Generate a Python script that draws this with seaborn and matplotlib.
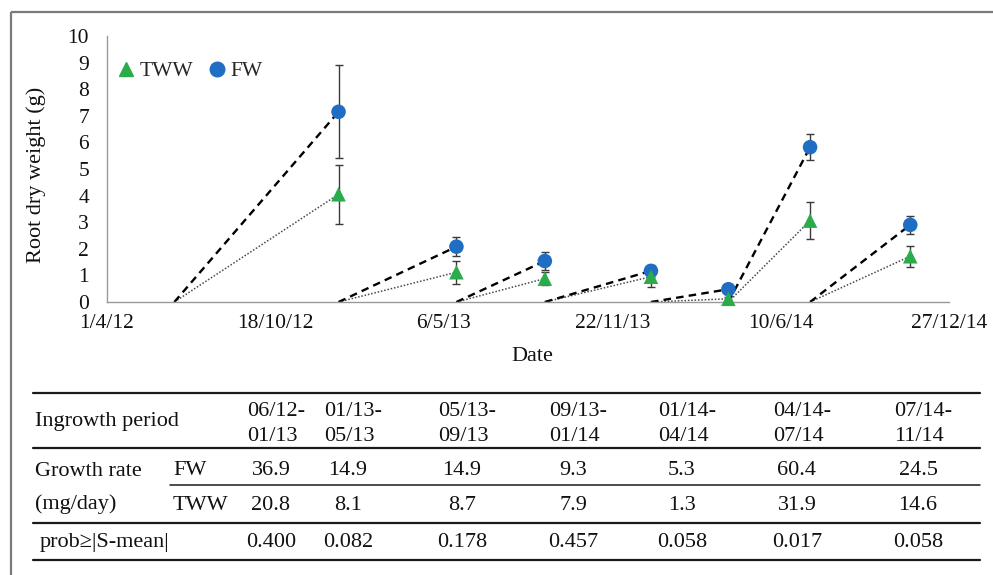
import numpy as np
import pandas as pd
import matplotlib
matplotlib.use("Agg")
import matplotlib.pyplot as plt
from matplotlib.lines import Line2D
from matplotlib.patches import Rectangle
import seaborn as sns

# ---- data -------------------------------------------------------------
period_start = ["2012-06-20", "2013-01-01", "2013-05-21", "2013-09-03",
                "2014-01-07", "2014-04-09", "2014-07-15"]
period_end = ["2013-01-01", "2013-05-21", "2013-09-03", "2014-01-07",
              "2014-04-09", "2014-07-15", "2014-11-11"]

fw_weight = [7.15, 2.08, 1.54, 1.17, 0.48, 5.82, 2.90]
fw_err = [1.75, 0.35, 0.33, 0.22, 0.08, 0.48, 0.33]
tww_weight = [4.05, 1.12, 0.88, 0.95, 0.12, 3.06, 1.72]
tww_err = [1.10, 0.43, 0.23, 0.37, 0.05, 0.70, 0.40]

periods = ["06/12-01/13", "01/13-05/13", "05/13-09/13", "09/13-01/14",
           "01/14-04/14", "04/14-07/14", "07/14-11/14"]
rate_fw = [36.9, 14.9, 14.9, 9.3, 5.3, 60.4, 24.5]
rate_tww = [20.8, 8.1, 8.7, 7.9, 1.3, 31.9, 14.6]
prob = [0.400, 0.082, 0.178, 0.457, 0.058, 0.017, 0.058]

axis_start = "2012-04-01"
axis_end = "2014-12-27"
tick_step_days = 200

# ---- tidy tables ------------------------------------------------------
points = pd.DataFrame({
    "date": pd.to_datetime(period_end * 2),
    "weight": fw_weight + tww_weight,
    "err": fw_err + tww_err,
    "treatment": ["FW"] * 7 + ["TWW"] * 7,
    "period": list(range(7)) * 2,
})

segments = []
for trt, vals in (("FW", fw_weight), ("TWW", tww_weight)):
    for i, (s, e, v) in enumerate(zip(period_start, period_end, vals)):
        segments.append({"date": pd.Timestamp(s), "weight": 0.0, "treatment": trt, "period": i, "order": 0})
        segments.append({"date": pd.Timestamp(e), "weight": v, "treatment": trt, "period": i, "order": 1})
segments = pd.DataFrame(segments)

# ---- style ------------------------------------------------------------
sns.set_theme(style="white")
plt.rcParams["font.family"] = ["Liberation Serif", "DejaVu Serif"]
plt.rcParams["mathtext.fontset"] = "stix"

W, H = 993, 575
fig = plt.figure(figsize=(W / 100, H / 100), dpi=100)

def fx(px):
    return px / W

def fy(py):
    return 1 - py / H

blue = "#1f6ec4"
green = "#2bac4a"
spine_col = "#9a9a9a"

ax = fig.add_axes([fx(107), fy(302), fx(949) - fx(107), fy(36) - fy(302)])

# connecting segments: FW dashed, TWW dotted
sns.lineplot(data=segments[segments.treatment == "TWW"], x="date", y="weight",
             units="period", estimator=None, sort=False, color="#4a4a4a",
             lw=1.1, dashes=False, ax=ax, legend=False, zorder=1)
ax.lines[-1]  # noqa
for ln in ax.lines:
    ln.set_linestyle((0, (1, 1.2)))
n_dotted = len(ax.lines)
sns.lineplot(data=segments[segments.treatment == "FW"], x="date", y="weight",
             units="period", estimator=None, sort=False, color="black",
             lw=1.7, ax=ax, legend=False, zorder=1)
for ln in ax.lines[n_dotted:]:
    ln.set_linestyle((0, (3.2, 2.2)))

# error bars
for trt in ("TWW", "FW"):
    sub = points[points.treatment == trt]
    ax.errorbar(sub["date"], sub["weight"], yerr=sub["err"], fmt="none",
                ecolor="#3a3a3a", elinewidth=1.0, capsize=3.2, capthick=1.0,
                zorder=2, clip_on=False)

# markers
sns.scatterplot(data=points, x="date", y="weight", hue="treatment",
                style="treatment", hue_order=["TWW", "FW"],
                style_order=["TWW", "FW"],
                markers={"TWW": "^", "FW": "o"},
                palette={"TWW": green, "FW": blue},
                s=110, linewidth=0, ax=ax, legend=False, zorder=3, clip_on=False)

# axes
x0, x1 = pd.Timestamp(axis_start), pd.Timestamp(axis_end)
ax.set_xlim(x0, x1)
ax.set_ylim(0, 10)
ticks = pd.date_range(x0, x1, freq=f"{tick_step_days}D")
ax.set_xticks(ticks)
ax.set_xticklabels([f"{d.day}/{d.month}/{d.year % 100}" for d in ticks])
ax.set_yticks(range(0, 11))

for side in ("top", "right"):
    ax.spines[side].set_visible(False)
for side in ("left", "bottom"):
    ax.spines[side].set_color(spine_col)
    ax.spines[side].set_linewidth(1.0)

ax.tick_params(axis="both", which="major", direction="out", length=4,
               width=1.0, color=spine_col, labelsize=15.5, labelcolor="#111111")
ax.tick_params(axis="x", pad=5)
ax.tick_params(axis="y", pad=9)

ax.set_xlabel("Date", fontsize=16, color="#111111")
ax.set_ylabel("Root dry weight (g)", fontsize=16, color="#111111")
ax.xaxis.set_label_coords((532 - 107) / 842, (302 - 347) / 266)
ax.yaxis.set_label_coords((46 - 107) / 842, (302 - 175) / 266)

handles = [
    Line2D([], [], marker="^", color=green, linestyle="none", markersize=10.5),
    Line2D([], [], marker="o", color=blue, linestyle="none", markersize=10.5),
]
ax.legend(handles, ["TWW", "FW"], loc="upper left",
          bbox_to_anchor=(fx(118), fy(61)), bbox_transform=fig.transFigure,
          ncol=2, frameon=False, fontsize=15.5, handlelength=0.7,
          handletextpad=0.3, columnspacing=0.75, borderpad=0, borderaxespad=0)

# ---- outer frame ------------------------------------------------------
fig.patches.append(Rectangle((fx(11), fy(12)), 2, -2, transform=fig.transFigure,
                             fill=False, edgecolor="#7a7a7a", linewidth=1.6))

# ---- table below the plot ----------------------------------------------
txt = dict(fontsize=16, color="#111111")
rule = "#1a1a1a"

def hline(py, xl, xr, lw):
    fig.add_artist(Line2D([fx(xl), fx(xr)], [fy(py), fy(py)],
                          transform=fig.transFigure, color=rule, linewidth=lw))

hline(393, 33, 980, 1.6)
hline(448, 33, 980, 1.6)
hline(485, 170, 980, 1.1)
hline(523, 33, 980, 1.6)
hline(560, 33, 980, 1.6)

col_x = [271, 348, 462, 573, 682, 797, 918]

fig.text(fx(35), fy(426), "Ingrowth period", ha="left", va="baseline", **txt)
fig.text(fx(35), fy(476), "Growth rate", ha="left", va="baseline", **txt)
fig.text(fx(35), fy(509), "(mg/day)", ha="left", va="baseline", **txt)
fig.text(fx(173), fy(475), "FW", ha="left", va="baseline", **txt)
fig.text(fx(173), fy(510), "TWW", ha="left", va="baseline", **txt)
fig.text(fx(40), fy(547), "prob\u2265|S-mean|", ha="left", va="baseline", **txt)

for cx, per, rf, rt, p in zip(col_x, periods, rate_fw, rate_tww, prob):
    first, second = per.split("-")
    left = cx - 24
    fig.text(fx(left), fy(416), first + "-", ha="left", va="baseline", **txt)
    fig.text(fx(left), fy(441), second, ha="left", va="baseline", **txt)
    fig.text(fx(cx), fy(475), f"{rf:.1f}", ha="center", va="baseline", **txt)
    fig.text(fx(cx), fy(510), f"{rt:.1f}", ha="center", va="baseline", **txt)
    fig.text(fx(cx), fy(547), f"{p:.3f}", ha="center", va="baseline", **txt)

fig.savefig("out.png", dpi=100)
